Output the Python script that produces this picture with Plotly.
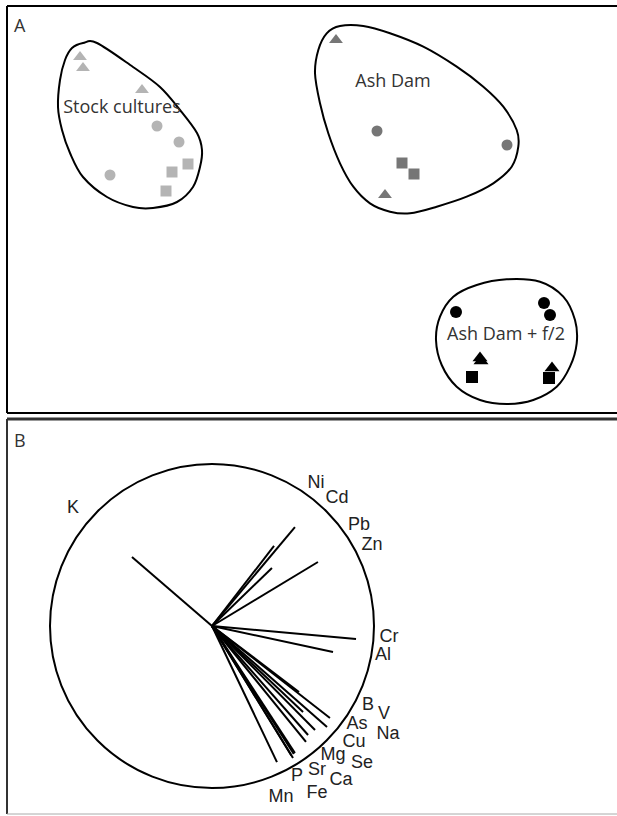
import plotly.graph_objects as go

# ---------------- Panel A : ordination scores ----------------
stock_tri_x = [-2.32, -2.29, -1.70]
stock_tri_y = [1.53, 1.42, 1.20]
stock_cir_x = [-1.55, -1.33, -2.02]
stock_cir_y = [0.84, 0.68, 0.35]
stock_sq_x = [-1.40, -1.24, -1.46]
stock_sq_y = [0.38, 0.46, 0.19]

ash_tri_x = [0.24, 0.73]
ash_tri_y = [1.70, 0.15]
ash_cir_x = [0.65, 1.95]
ash_cir_y = [0.79, 0.65]
ash_sq_x = [0.90, 1.02]
ash_sq_y = [0.47, 0.36]

f2_tri_x = [1.68, 1.69, 2.40]
f2_tri_y = [-1.48, -1.51, -1.58]
f2_cir_x = [1.44, 2.32, 2.38]
f2_cir_y = [-1.02, -0.93, -1.05]
f2_sq_x = [1.60, 2.37]
f2_sq_y = [-1.67, -1.68]

# group outlines (traced)
stock_hull_x = [-2.15, -1.79, -1.52, -1.32, -1.15, -1.10, -1.12, -1.19, -1.35, -1.59,
                -1.79, -2.05, -2.29, -2.42, -2.50, -2.54, -2.52, -2.47, -2.40, -2.29]
stock_hull_y = [1.67, 1.43, 1.23, 1.00, 0.77, 0.60, 0.43, 0.23, 0.08, 0.02,
                0.03, 0.13, 0.33, 0.57, 0.80, 1.03, 1.30, 1.50, 1.62, 1.67]
ash_hull_x = [0.063, 0.147, 0.28, 0.513, 0.78, 1.113, 1.447, 1.713, 1.913, 2.047, 2.063, 1.997,
              1.813, 1.547, 1.247, 0.98, 0.78, 0.58, 0.413, 0.28, 0.163, 0.08, 0.03]
ash_hull_y = [1.60, 1.767, 1.84, 1.84, 1.767, 1.633, 1.433, 1.233, 1.033, 0.80, 0.633, 0.433,
              0.267, 0.133, 0.033, -0.033, -0.017, 0.067, 0.233, 0.467, 0.767, 1.067, 1.367]
f2_hull_x = [1.24, 1.28, 1.413, 1.647, 1.947, 2.28, 2.513, 2.63, 2.647, 2.58, 2.447, 2.213,
             1.947, 1.68, 1.447, 1.297]
f2_hull_y = [-1.30, -1.067, -0.867, -0.75, -0.693, -0.717, -0.867, -1.10, -1.333, -1.567, -1.767,
             -1.90, -1.94, -1.90, -1.767, -1.55]

group_labels = ["Stock cultures", "Ash Dam", "Ash Dam + f/2"]
group_label_x = [-1.90, 0.81, 1.94]
group_label_y = [1.02, 1.28, -1.25]

# ---------------- Panel B : element vectors ----------------
elements = ["K", "Ni", "Cd", "Pb", "Zn", "Cr", "Al", "B", "V", "Na", "As", "Cu",
            "Mg", "Se", "P", "Sr", "Ca", "Mn", "Fe"]
vec_x = [-0.494, 0.512, 0.383, 0.370, 0.654, 0.889, 0.747, 0.537, 0.728, 0.710, 0.562, 0.636,
         0.580, 0.593, 0.490, 0.500, 0.512, 0.401, 0.505]
vec_y = [0.426, 0.611, 0.494, 0.358, 0.395, -0.080, -0.160, -0.407, -0.568, -0.623, -0.531, -0.642,
         -0.716, -0.673, -0.800, -0.815, -0.784, -0.840, -0.790]
lab_x = [-0.858, 0.642, 0.772, 0.907, 0.988, 1.093, 1.056, 0.963, 1.062, 1.086, 0.895, 0.877,
         0.747, 0.926, 0.525, 0.648, 0.796, 0.426, 0.648]
lab_y = [0.728, 0.877, 0.784, 0.623, 0.494, -0.068, -0.185, -0.488, -0.549, -0.667, -0.605, -0.722,
         -0.802, -0.846, -0.932, -0.895, -0.951, -1.056, -1.031]

W, H = 617, 816
LIGHT, MID, DARK = "#b4b4b4", "#767676", "#000000"
TXT = "#333333"

fig = go.Figure()


def smooth_closed_path(xs, ys):
    """Closed Catmull-Rom curve through the traced points, as an SVG path in data units."""
    n = len(xs)
    P = list(zip(xs, ys))
    d = "M %.4f,%.4f" % P[0]
    for i in range(n):
        p0, p1, p2, p3 = P[i - 1], P[i], P[(i + 1) % n], P[(i + 2) % n]
        c1 = (p1[0] + (p2[0] - p0[0]) / 6, p1[1] + (p2[1] - p0[1]) / 6)
        c2 = (p2[0] - (p3[0] - p1[0]) / 6, p2[1] - (p3[1] - p1[1]) / 6)
        d += " C %.4f,%.4f %.4f,%.4f %.4f,%.4f" % (c1 + c2 + p2)
    return d + " Z"


def pts(x, y, sym, color, size):
    fig.add_trace(go.Scatter(x=x, y=y, mode="markers", xaxis="x", yaxis="y",
                             marker=dict(symbol=sym, color=color, size=size, line=dict(width=0))))


pts(stock_tri_x, stock_tri_y, "triangle-up", LIGHT, 12)
pts(stock_cir_x, stock_cir_y, "circle", LIGHT, 11)
pts(stock_sq_x, stock_sq_y, "square", LIGHT, 11)
pts(ash_tri_x, ash_tri_y, "triangle-up", MID, 12)
pts(ash_cir_x, ash_cir_y, "circle", MID, 11)
pts(ash_sq_x, ash_sq_y, "square", MID, 11)
pts(f2_tri_x, f2_tri_y, "triangle-up", DARK, 13)
pts(f2_cir_x, f2_cir_y, "circle", DARK, 12)
pts(f2_sq_x, f2_sq_y, "square", DARK, 12)

fig.add_trace(go.Scatter(x=group_label_x, y=group_label_y, text=group_labels, mode="text",
                         textfont=dict(family="Open Sans", size=18, color=TXT), xaxis="x", yaxis="y"))

# vectors
lx, ly = [], []
for vx, vy in zip(vec_x, vec_y):
    lx += [0, vx, None]
    ly += [0, vy, None]
fig.add_trace(go.Scatter(x=lx, y=ly, mode="lines", line=dict(color="black", width=2),
                         xaxis="x2", yaxis="y2", hoverinfo="skip"))
fig.add_trace(go.Scatter(x=lab_x, y=lab_y, text=elements, mode="text",
                         textfont=dict(family="Liberation Sans", size=18, color="#222222"),
                         xaxis="x2", yaxis="y2"))

px = lambda v: v / W
py = lambda v: 1 - v / H

hull_shapes = [dict(type="path", xref="x", yref="y", path=smooth_closed_path(hx, hy),
                    line=dict(color="black", width=2), fillcolor="rgba(0,0,0,0)", layer="below")
               for hx, hy in [(stock_hull_x, stock_hull_y), (ash_hull_x, ash_hull_y),
                              (f2_hull_x, f2_hull_y)]]

ax = dict(visible=False, showgrid=False, zeroline=False, fixedrange=True)
fig.update_layout(
    width=W, height=H, margin=dict(l=0, r=0, t=0, b=0),
    paper_bgcolor="white", plot_bgcolor="white", showlegend=False,
    xaxis=dict(domain=[px(7), 1], range=[-3.05, 3.05], **ax),
    yaxis=dict(domain=[py(413), py(6)], range=[-2.03, 2.04], **ax),
    xaxis2=dict(domain=[px(7), 1], range=[-1.2654, 2.5], **ax),
    yaxis2=dict(domain=[py(814), py(419)], range=[-1.1605, 1.2778], **ax),
    shapes=hull_shapes + [
        dict(type="circle", xref="x2", yref="y2", x0=-1, x1=1, y0=-1, y1=1,
             line=dict(color="black", width=2)),
        # panel A frame
        dict(type="line", xref="paper", yref="paper", x0=px(7), x1=1, y0=py(6), y1=py(6),
             line=dict(color="black", width=2)),
        dict(type="line", xref="paper", yref="paper", x0=px(7), x1=px(7), y0=py(6), y1=py(413),
             line=dict(color="black", width=2)),
        dict(type="line", xref="paper", yref="paper", x0=px(7), x1=1, y0=py(413), y1=py(413),
             line=dict(color="black", width=2)),
        # panel B frame
        dict(type="line", xref="paper", yref="paper", x0=px(7), x1=1, y0=py(419), y1=py(419),
             line=dict(color="#333333", width=3)),
        dict(type="line", xref="paper", yref="paper", x0=px(7), x1=px(7), y0=py(419), y1=py(814),
             line=dict(color="#333333", width=2)),
        dict(type="line", xref="paper", yref="paper", x0=px(7), x1=1, y0=py(814), y1=py(814),
             line=dict(color="#aaaaaa", width=1)),
    ],
    annotations=[
        dict(text="A", xref="paper", yref="paper", x=px(20), y=py(25), showarrow=False,
             xanchor="center", yanchor="middle",
             font=dict(family="Open Sans", size=18, color=TXT)),
        dict(text="B", xref="paper", yref="paper", x=px(20), y=py(440), showarrow=False,
             xanchor="center", yanchor="middle",
             font=dict(family="Open Sans", size=18, color=TXT)),
    ],
)

fig.write_html("out.html", config={"displayModeBar": False},
               post_script="document.body.style.margin='0';document.body.style.overflow='hidden';")
